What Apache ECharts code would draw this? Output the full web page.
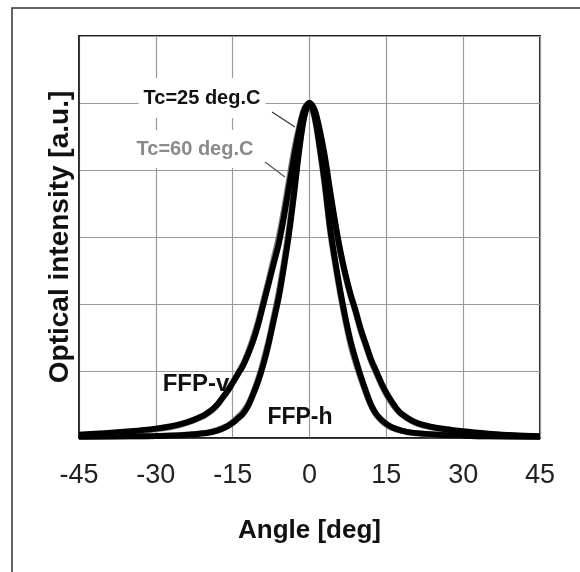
<!DOCTYPE html>
<html><head><meta charset="utf-8">
<script src="https://cdn.jsdelivr.net/npm/echarts@6/dist/echarts.min.js"></script>
<style>html,body{margin:0;padding:0;background:#fff}#c{width:580px;height:572px}</style>
</head><body><div id="c"></div>
<script>
const xTickLabels = ['-45','-30','-15','0','15','30','45'];
const vAngles = [-45,-40,-35,-30,-27,-25,-23,-21,-20,-19,-18,-17,-16,-15,-14,-13,-12,-11,-10,-9,-8,-7,-6,-5,-4,-3,-2,-1,0,1,2,3,4,5,6,7,8,9,10,11,12,13,14,15,16,17,18,20,22,25,30,35,40,45];
const vInt25 = [0.010,0.014,0.020,0.028,0.035,0.042,0.052,0.065,0.074,0.085,0.10,0.12,0.14,0.165,0.19,0.215,0.25,0.29,0.34,0.40,0.46,0.52,0.58,0.66,0.75,0.84,0.92,0.98,1.00,0.98,0.92,0.84,0.74,0.645,0.56,0.49,0.43,0.38,0.325,0.28,0.235,0.20,0.165,0.135,0.11,0.088,0.072,0.052,0.040,0.030,0.020,0.013,0.008,0.005];
const vInt60 = [0.009,0.013,0.018,0.026,0.033,0.040,0.050,0.063,0.072,0.083,0.098,0.118,0.14,0.165,0.192,0.22,0.255,0.30,0.35,0.41,0.47,0.535,0.60,0.68,0.77,0.86,0.93,0.985,1.00,0.975,0.91,0.83,0.73,0.64,0.555,0.485,0.425,0.375,0.32,0.275,0.23,0.195,0.16,0.13,0.105,0.085,0.07,0.05,0.038,0.028,0.018,0.012,0.007,0.004];
const hAngles = [-45,-35,-30,-25,-20,-18,-16,-15,-14,-13,-12,-11,-10,-9,-8,-7,-6,-5,-4,-3,-2,-1,0,1,2,3,4,5,6,7,8,9,10,11,12,13,14,15,16,18,20,25,30,35,45];
const hInt25 = [0.004,0.005,0.006,0.008,0.015,0.022,0.035,0.045,0.058,0.072,0.095,0.13,0.17,0.22,0.28,0.35,0.42,0.51,0.61,0.73,0.86,0.96,1.00,0.96,0.87,0.76,0.63,0.53,0.44,0.36,0.29,0.235,0.185,0.14,0.10,0.072,0.055,0.042,0.033,0.022,0.016,0.010,0.007,0.005,0.004];
const hInt60 = [0.004,0.005,0.006,0.009,0.016,0.024,0.037,0.048,0.062,0.078,0.10,0.135,0.178,0.23,0.29,0.36,0.435,0.525,0.625,0.745,0.87,0.965,1.00,0.955,0.86,0.75,0.62,0.52,0.43,0.35,0.28,0.225,0.178,0.135,0.097,0.07,0.053,0.04,0.031,0.021,0.015,0.010,0.007,0.005,0.004];

const FONT = '"Liberation Sans", Arial, sans-serif';
const pair = (xs, ys) => xs.map((x, i) => [x, ys[i]]);
const mk = (name, xs, ys, color, w) => ({
  name, type: 'line', data: pair(xs, ys), showSymbol: false, smooth: 0.3,
  lineStyle: { color, width: w }, itemStyle: { color }, silent: true
});

const chart = echarts.init(document.getElementById('c'));
chart.setOption({
  animation: false,
  backgroundColor: '#fff',
  grid: { left: 79, right: 40, top: 36, bottom: 134, show: true, borderColor: '#222', borderWidth: 2, backgroundColor: 'transparent' },
  xAxis: {
    type: 'value', min: -45, max: 45, interval: 15,
    axisLine: { show: true, onZero: false, lineStyle: { color: '#222', width: 1.5 } },
    axisTick: { show: false },
    axisLabel: { margin: 24, fontFamily: FONT, fontSize: 27, color: '#222',
      formatter: v => xTickLabels[Math.round((v + 45) / 15)] },
    splitLine: { show: true, lineStyle: { color: '#999', width: 1.2 } },
    name: 'Angle [deg]', nameLocation: 'middle', nameGap: 80,
    nameTextStyle: { fontFamily: FONT, fontSize: 26, fontWeight: 'bold', color: '#111' }
  },
  yAxis: {
    type: 'value', min: 0, max: 1.2, interval: 0.2,
    axisLine: { show: true, onZero: false, lineStyle: { color: '#222', width: 1.5 } },
    axisTick: { show: false },
    axisLabel: { show: false },
    splitLine: { show: true, lineStyle: { color: '#999', width: 1.2 } },
    name: 'Optical intensity [a.u.]', nameLocation: 'middle', nameGap: 5,
    nameTextStyle: { fontFamily: FONT, fontSize: 28, fontWeight: 'bold', color: '#111' }
  },
  series: [
    mk('FFP-v Tc=60', vAngles, vInt60, '#808080', 6),
    mk('FFP-h Tc=60', hAngles, hInt60, '#808080', 6),
    mk('FFP-v Tc=25', vAngles, vInt25, '#000', 6),
    mk('FFP-h Tc=25', hAngles, hInt25, '#000', 6)
  ],
  graphic: [
    { type: 'rect', shape: { x: 12, y: 8, width: 700, height: 700 }, style: { fill: 'none', stroke: '#333', lineWidth: 1.5 }, z: 100 },
    { type: 'text', x: 202, y: 98, z: 50, style: { text: 'Tc=25 deg.C', font: 'bold 20px ' + FONT, fill: '#111', align: 'center', verticalAlign: 'middle', backgroundColor: '#fff', padding: [10, 5, 10, 5] } },
    { type: 'text', x: 195, y: 149, z: 50, style: { text: 'Tc=60 deg.C', font: 'bold 20px ' + FONT, fill: '#8a8a8a', align: 'center', verticalAlign: 'middle', backgroundColor: '#fff', padding: [10, 5, 8, 5] } },
    { type: 'line', z: 50, shape: { x1: 272, y1: 112, x2: 295, y2: 127 }, style: { stroke: '#333', lineWidth: 1.2 } },
    { type: 'line', z: 50, shape: { x1: 265, y1: 162, x2: 285, y2: 177 }, style: { stroke: '#555', lineWidth: 1.2 } },
    { type: 'text', x: 196, y: 384, z: 50, style: { text: 'FFP-v', font: 'bold 24px ' + FONT, fill: '#111', align: 'center', verticalAlign: 'middle' } },
    { type: 'text', x: 300, y: 418, z: 50, style: { text: 'FFP-h', font: 'bold 23px ' + FONT, fill: '#111', align: 'center', verticalAlign: 'middle' } }
  ]
});
</script>
</body></html>
